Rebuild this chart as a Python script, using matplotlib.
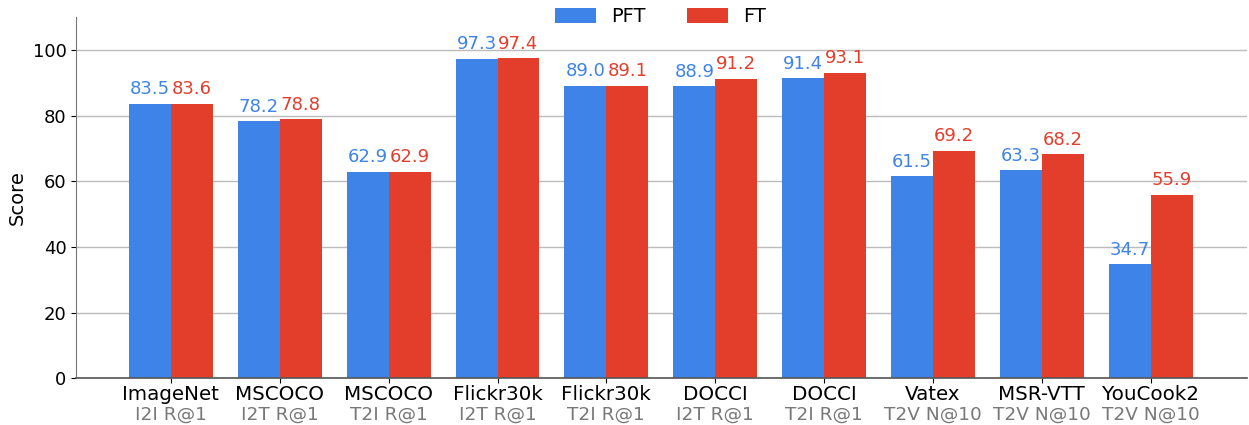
import numpy as np
import matplotlib
matplotlib.use("Agg")
import matplotlib.pyplot as plt
import matplotlib.transforms as mtransforms

# ------------------------------
# Data
# ------------------------------
datasets = ["ImageNet", "MSCOCO", "MSCOCO", "Flickr30k", "Flickr30k",
            "DOCCI", "DOCCI", "Vatex", "MSR-VTT", "YouCook2"]
tasks = ["I2I R@1", "I2T R@1", "T2I R@1", "I2T R@1", "T2I R@1",
         "I2T R@1", "T2I R@1", "T2V N@10", "T2V N@10", "T2V N@10"]
pft = [83.5, 78.2, 62.9, 97.3, 89.0, 88.9, 91.4, 61.5, 63.3, 34.7]
ft = [83.6, 78.8, 62.9, 97.4, 89.1, 91.2, 93.1, 69.2, 68.2, 55.9]

blue = "#3e83e8"
red = "#e23e2b"
width = 0.385

# ------------------------------
# Plot
# ------------------------------
fig, ax = plt.subplots(figsize=(12.49, 4.25), dpi=100)
fig.subplots_adjust(left=0.061, right=0.998, top=0.96, bottom=0.11)

x = np.arange(len(datasets))
b1 = ax.bar(x - width / 2, pft, width, color=blue, label="PFT", zorder=2)
b2 = ax.bar(x + width / 2, ft, width, color=red, label="FT", zorder=2)

for bars, color in [(b1, blue), (b2, red)]:
    for bar in bars:
        ax.annotate(f"{bar.get_height():.1f}",
                    (bar.get_x() + bar.get_width() / 2, bar.get_height()),
                    xytext=(0, 4), textcoords="offset points",
                    ha="center", va="bottom", color=color, fontsize=13)

ax.set_ylim(0, 110)
ax.set_xlim(-0.87, 9.88)
ax.set_yticks(range(0, 101, 20))
ax.set_ylabel("Score", fontsize=14)
ax.tick_params(axis="y", labelsize=13)
ax.set_xticks(x)
ax.set_xticklabels(datasets, fontsize=14.3)
ax.tick_params(axis="x", pad=1.5)

# second line of the tick labels
trans = mtransforms.blended_transform_factory(ax.transData, ax.transAxes)
for xi, t in zip(x, tasks):
    ax.annotate(t, (xi, 0), xycoords=trans, xytext=(0, -19.5),
                textcoords="offset points", ha="center", va="top",
                color="#787878", fontsize=13.3)

ax.grid(axis="y", color="#bbbbbb", linewidth=1, zorder=0)
ax.set_axisbelow(True)
ax.spines["top"].set_visible(False)
ax.spines["right"].set_visible(False)
ax.spines["left"].set_color("#777777")
ax.spines["bottom"].set_color("#555555")
ax.spines["bottom"].set_linewidth(1.2)

fig.legend(loc="upper center", bbox_to_anchor=(0.529, 1.025), ncol=2,
           frameon=False, fontsize=14, handlelength=2.1, handleheight=0.8,
           handletextpad=0.8, columnspacing=2.1)

fig.savefig("out.png", dpi=100)
